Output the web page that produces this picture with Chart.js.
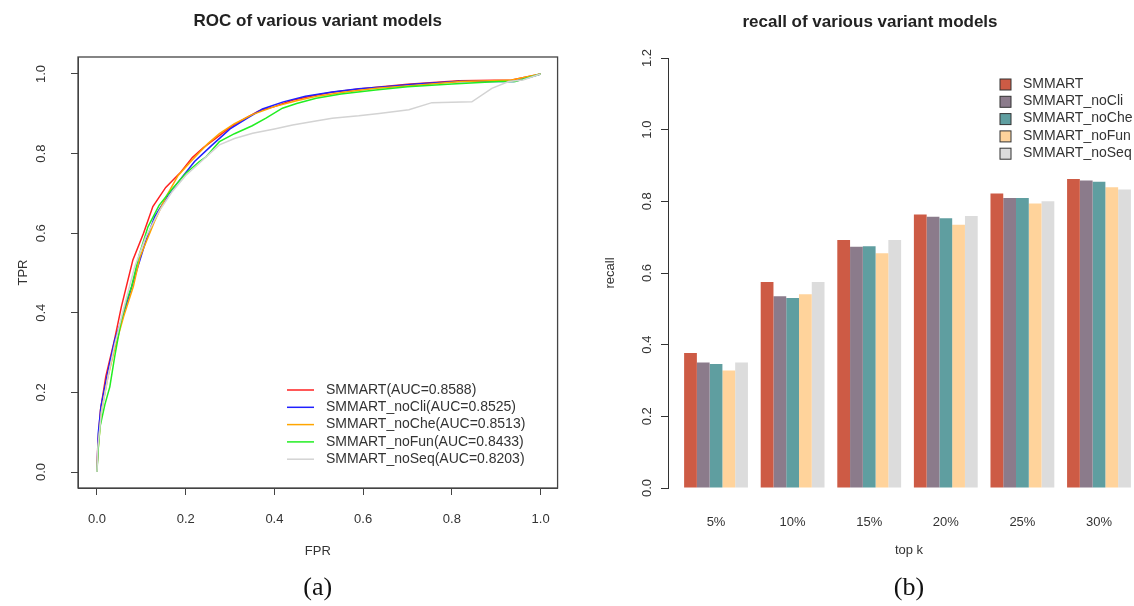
<!DOCTYPE html>
<html>
<head>
<meta charset="utf-8">
<script src="https://cdn.jsdelivr.net/npm/chart.js@4/dist/chart.umd.min.js"></script>
<style>
  html, body { margin: 0; padding: 0; background: #fff; overflow: hidden; }
  #rocChart { position: absolute; left: 0; top: 0; }
  #recallChart { position: absolute; left: 567px; top: 0; }
</style>
</head>
<body>
<canvas id="rocChart" width="567" height="606"></canvas>
<canvas id="recallChart" width="600" height="606"></canvas>
<script>
// ---- ROC curves ----
const rocNames = ['SMMART(AUC=0.8588)', 'SMMART_noCli(AUC=0.8525)', 'SMMART_noChe(AUC=0.8513)',
  'SMMART_noFun(AUC=0.8433)', 'SMMART_noSeq(AUC=0.8203)'];
const rocColors = ['#ff2020', '#2020ff', '#ffa500', '#22ee22', '#d3d3d3'];

const smmartFpr = [0, 0.002, 0.008, 0.02, 0.038, 0.055, 0.081, 0.105, 0.126, 0.155, 0.187, 0.215, 0.24, 0.27, 0.30, 0.335, 0.366, 0.40, 0.44, 0.49, 0.53, 0.59, 0.63, 0.70, 0.816, 0.935, 1];
const smmartTpr = [0, 0.07, 0.156, 0.24, 0.324, 0.415, 0.533, 0.60, 0.667, 0.715, 0.751, 0.79, 0.815, 0.84, 0.866, 0.889, 0.908, 0.918, 0.934, 0.946, 0.954, 0.962, 0.967, 0.974, 0.983, 0.985, 1];

const noCliFpr = [0, 0.001, 0.003, 0.009, 0.024, 0.04, 0.061, 0.085, 0.11, 0.13, 0.16, 0.187, 0.22, 0.26, 0.30, 0.34, 0.373, 0.42, 0.47, 0.53, 0.59, 0.65, 0.72, 0.82, 0.90, 0.94, 0.97, 1];
const noCliTpr = [0, 0.03, 0.098, 0.164, 0.249, 0.332, 0.40, 0.49, 0.58, 0.641, 0.695, 0.734, 0.78, 0.822, 0.862, 0.89, 0.912, 0.930, 0.944, 0.955, 0.963, 0.968, 0.975, 0.982, 0.981, 0.981, 0.99, 1];

const noCheFpr = [0, 0.002, 0.01, 0.025, 0.04, 0.06, 0.082, 0.097, 0.13, 0.155, 0.183, 0.22, 0.25, 0.276, 0.31, 0.35, 0.40, 0.45, 0.50, 0.56, 0.63, 0.72, 0.82, 0.93, 1];
const noCheTpr = [0, 0.05, 0.15, 0.24, 0.31, 0.39, 0.466, 0.54, 0.63, 0.69, 0.745, 0.79, 0.825, 0.85, 0.875, 0.898, 0.918, 0.933, 0.945, 0.955, 0.964, 0.972, 0.981, 0.984, 1];

const noFunFpr = [0, 0.003, 0.007, 0.018, 0.029, 0.04, 0.055, 0.067, 0.078, 0.095, 0.115, 0.14, 0.168, 0.2, 0.231, 0.246, 0.276, 0.31, 0.35, 0.381, 0.418, 0.45, 0.494, 0.55, 0.628, 0.70, 0.80, 0.906, 0.943, 1];
const noFunTpr = [0, 0.06, 0.114, 0.17, 0.214, 0.29, 0.382, 0.432, 0.466, 0.545, 0.616, 0.67, 0.709, 0.75, 0.78, 0.792, 0.83, 0.85, 0.87, 0.889, 0.914, 0.926, 0.939, 0.95, 0.96, 0.968, 0.975, 0.981, 0.981, 1];

const noSeqFpr = [0, 0.002, 0.01, 0.025, 0.04, 0.06, 0.085, 0.11, 0.14, 0.17, 0.2, 0.23, 0.254, 0.276, 0.31, 0.351, 0.40, 0.441, 0.49, 0.53, 0.59, 0.636, 0.703, 0.755, 0.845, 0.89, 0.928, 0.96, 1];
const noSeqTpr = [0, 0.06, 0.15, 0.24, 0.32, 0.41, 0.515, 0.59, 0.655, 0.705, 0.745, 0.775, 0.80, 0.822, 0.838, 0.851, 0.862, 0.872, 0.881, 0.889, 0.895, 0.901, 0.91, 0.928, 0.930, 0.964, 0.981, 0.985, 1];

const rocTicks = [0, 0.2, 0.4, 0.6, 0.8, 1.0];

// ---- recall bars ----
const topK = ['5%', '10%', '15%', '20%', '25%', '30%'];
const barNames = ['SMMART', 'SMMART_noCli', 'SMMART_noChe', 'SMMART_noFun', 'SMMART_noSeq'];
const barColors = ['#cd5b45', '#8b7b8b', '#5f9ea0', '#ffd39b', '#dcdcdc'];
const recallSmmart = [0.377, 0.575, 0.692, 0.763, 0.822, 0.862];
const recallNoCli  = [0.350, 0.535, 0.673, 0.757, 0.809, 0.858];
const recallNoChe  = [0.346, 0.530, 0.675, 0.753, 0.809, 0.855];
const recallNoFun  = [0.328, 0.541, 0.655, 0.735, 0.794, 0.839];
const recallNoSeq  = [0.350, 0.575, 0.692, 0.759, 0.800, 0.833];
const recallTicks = [0, 0.2, 0.4, 0.6, 0.8, 1.0, 1.2];

const SANS = "'Liberation Sans', Arial, sans-serif";
const NARROW = "'Liberation Sans Narrow', 'Liberation Sans', Arial, sans-serif";
const SERIF = "'Liberation Serif', 'Times New Roman', serif";
const INK = '#333';

// R-style y labels: turned 90 degrees, parallel to the axis
function rotatedYLabels(gap) {
  return {
    id: 'rotatedYLabels',
    afterDraw(chart) {
      const s = chart.scales.y;
      const ctx = chart.ctx;
      ctx.save();
      ctx.fillStyle = INK;
      ctx.font = '13px ' + SANS;
      ctx.textAlign = 'center';
      ctx.textBaseline = 'middle';
      s.ticks.forEach(t => {
        ctx.save();
        ctx.translate(s.right - gap, s.getPixelForValue(t.value));
        ctx.rotate(-Math.PI / 2);
        ctx.fillText(t.value.toFixed(1), 0, 0);
        ctx.restore();
      });
      ctx.restore();
    }
  };
}

const boxPlugin = {
  id: 'plotBox',
  afterDraw(chart) {
    const a = chart.chartArea;
    const ctx = chart.ctx;
    ctx.save();
    ctx.strokeStyle = '#444';
    ctx.lineWidth = 1.3;
    ctx.strokeRect(a.left, a.top, a.right - a.left, a.bottom - a.top);
    ctx.restore();
  }
};

const rocLegend = {
  id: 'rocLegend',
  afterDraw(chart) {
    const ctx = chart.ctx;
    ctx.save();
    ctx.font = '14px ' + SANS;
    ctx.textBaseline = 'middle';
    chart.data.datasets.forEach((ds, i) => {
      const y = 390 + i * 17.3;
      ctx.strokeStyle = ds.borderColor;
      ctx.lineWidth = 1.5;
      ctx.beginPath();
      ctx.moveTo(287, y);
      ctx.lineTo(314, y);
      ctx.stroke();
      ctx.fillStyle = INK;
      ctx.fillText(ds.label, 326, y);
    });
    ctx.restore();
  }
};

const barLegend = {
  id: 'barLegend',
  afterDraw(chart) {
    const ctx = chart.ctx;
    ctx.save();
    ctx.font = '14px ' + SANS;
    ctx.textBaseline = 'middle';
    chart.data.datasets.forEach((ds, i) => {
      const y = 84 + i * 17.3;
      ctx.fillStyle = ds.backgroundColor;
      ctx.fillRect(433, y - 5, 11, 11);
      ctx.strokeStyle = INK;
      ctx.lineWidth = 1;
      ctx.strokeRect(433, y - 5, 11, 11);
      ctx.fillStyle = INK;
      ctx.fillText(ds.label, 456, y);
    });
    ctx.restore();
  }
};

const rocX = [smmartFpr, noCliFpr, noCheFpr, noFunFpr, noSeqFpr];
const rocY = [smmartTpr, noCliTpr, noCheTpr, noFunTpr, noSeqTpr];

new Chart(document.getElementById('rocChart'), {
  type: 'scatter',
  data: {
    datasets: rocNames.map((name, i) => ({
      label: name,
      data: rocX[i].map((x, j) => ({ x, y: rocY[i][j] })),
      showLine: true,
      borderColor: rocColors[i],
      borderWidth: 1.5,
      pointRadius: 0,
      tension: 0,
      order: rocNames.length - i
    }))
  },
  options: {
    responsive: false,
    animation: false,
    devicePixelRatio: 1,
    layout: { padding: { right: 8 } },
    plugins: {
      legend: { display: false },
      tooltip: { enabled: false },
      title: {
        display: true, fullSize: false,
        text: 'ROC of various variant models',
        color: '#222', font: { family: SANS, size: 17, weight: 'bold' },
        padding: { top: 11, bottom: 25.6 }
      },
      subtitle: {
        display: true, fullSize: false, position: 'bottom',
        text: '(a)', color: '#111', font: { family: SERIF, size: 26 },
        padding: { top: 2.8, bottom: 2 }
      }
    },
    scales: {
      x: {
        type: 'linear', min: -0.0427, max: 1.0382,
        afterBuildTicks: s => { s.ticks = rocTicks.map(v => ({ value: v })); },
        afterFit: s => { s.height = 82; },
        border: { display: true, color: '#444' },
        grid: { drawOnChartArea: false, drawTicks: true, tickLength: 7, color: '#444' },
        ticks: { color: INK, font: { family: NARROW, size: 13 }, padding: 17, maxRotation: 0,
          callback: v => v.toFixed(1) },
        title: { display: true, text: 'FPR', color: INK, font: { family: NARROW, size: 13 },
          padding: { top: 0, bottom: 11 } }
      },
      y: {
        type: 'linear', min: -0.0402, max: 1.0427,
        afterBuildTicks: s => { s.ticks = rocTicks.map(v => ({ value: v })); },
        afterFit: s => { s.width = 78; },
        border: { display: true, color: '#444' },
        grid: { drawOnChartArea: false, drawTicks: true, tickLength: 7, color: '#444' },
        ticks: { display: false },
        title: { display: true, text: 'TPR', color: INK, font: { family: SANS, size: 13 },
          padding: { top: 16, bottom: 0 } }
      }
    }
  },
  plugins: [boxPlugin, rotatedYLabels(37), rocLegend]
});

const recallSeries = [recallSmmart, recallNoCli, recallNoChe, recallNoFun, recallNoSeq];

new Chart(document.getElementById('recallChart'), {
  type: 'bar',
  data: {
    datasets: barNames.map((name, i) => ({
      label: name,
      data: recallSeries[i].map((v, j) => ({ x: j + 1, y: v })),
      backgroundColor: barColors[i],
      borderWidth: 0,
      barPercentage: 1,
      categoryPercentage: 5 / 6
    }))
  },
  options: {
    responsive: false,
    animation: false,
    devicePixelRatio: 1,
    layout: { padding: { left: 23, right: 17 } },
    plugins: {
      legend: { display: false },
      tooltip: { enabled: false },
      title: {
        display: true,
        text: 'recall of various variant models',
        color: '#222', font: { family: SANS, size: 17, weight: 'bold' },
        padding: { top: 12, bottom: 25.6 }
      },
      subtitle: {
        display: true, fullSize: false, position: 'bottom',
        text: '(b)', color: '#111', font: { family: SERIF, size: 26 },
        padding: { top: 1.8, bottom: 2 }
      }
    },
    scales: {
      x: {
        type: 'linear', offset: false, min: 0.373, max: 6.666,
        afterBuildTicks: s => { s.ticks = topK.map((_, i) => ({ value: i + 1 })); },
        afterFit: s => { s.height = 83; },
        border: { display: false },
        grid: { display: false, drawTicks: false, tickLength: 0 },
        ticks: { color: INK, font: { family: NARROW, size: 13 }, padding: 27, maxRotation: 0,
          autoSkip: false, callback: v => topK[Math.round(v) - 1] },
        title: { display: true, text: 'top k', color: INK, font: { family: NARROW, size: 13 },
          padding: { top: 0, bottom: 13 } }
      },
      y: {
        type: 'linear', min: 0, max: 1.2,
        afterBuildTicks: s => { s.ticks = recallTicks.map(v => ({ value: v })); },
        afterFit: s => { s.width = 78; },
        border: { display: true, color: INK },
        grid: { drawOnChartArea: false, drawTicks: true, tickLength: 7, color: INK },
        ticks: { display: false },
        title: { display: true, text: 'recall', color: INK, font: { family: SANS, size: 13 },
          padding: { top: 13, bottom: 0 } }
      }
    }
  },
  plugins: [rotatedYLabels(21), barLegend]
});
</script>
</body>
</html>
